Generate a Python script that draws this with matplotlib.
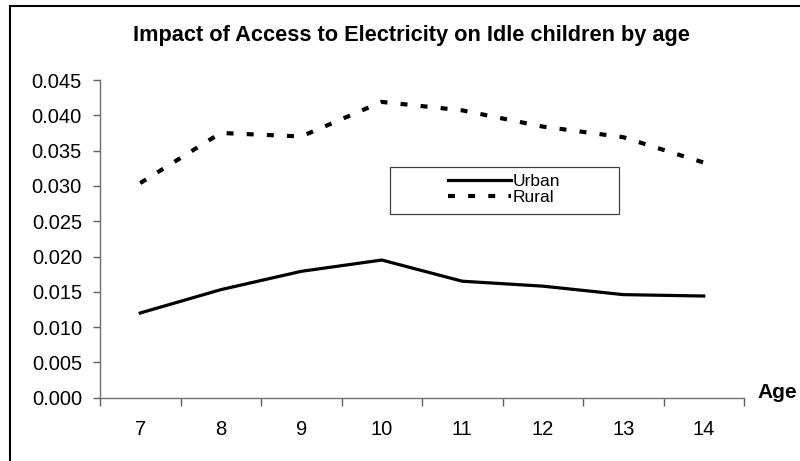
import numpy as np
import matplotlib.pyplot as plt
from matplotlib.patches import Rectangle

plt.rcParams['font.family'] = ['Liberation Sans', 'DejaVu Sans']
plt.rcParams['lines.scale_dashes'] = False

ages = [7, 8, 9, 10, 11, 12, 13, 14]
urban = [0.0120, 0.0153, 0.0179, 0.0195, 0.0165, 0.0158, 0.0146, 0.0144]
rural = [0.0304, 0.0375, 0.0370, 0.0419, 0.0407, 0.0384, 0.0369, 0.0333]
y_ticks = [0.000, 0.005, 0.010, 0.015, 0.020, 0.025, 0.030, 0.035, 0.040, 0.045]

W, H = 800, 461
fig = plt.figure(figsize=(W / 100, H / 100), dpi=100)
ax = fig.add_axes([100 / W, 1 - 397.7 / H, 644 / W, 317.7 / H])

x = np.arange(len(ages))
ax.plot(x, urban, color='black', lw=2.3, label='Urban')
ax.plot(x, rural, color='black', lw=3.0, dashes=(5.0, 9.5), dash_capstyle='butt',
        label='Rural')

ax.set_xlim(-0.5, len(ages) - 0.5)
ax.set_ylim(0, 0.045)

# category axis: ticks sit between categories, labels in the middle
ax.set_xticks(np.arange(len(ages) + 1) - 0.5)
ax.set_xticklabels([])
ax.set_xticks(x, minor=True)
ax.set_xticklabels([str(a) for a in ages], minor=True, fontsize=14.5)
ax.tick_params(axis='x', which='major', length=6, width=1, color='#606060', direction='out')
ax.tick_params(axis='x', which='minor', length=0, pad=16)

ax.set_yticks(y_ticks)
ax.set_yticklabels([f'{v:.3f}' for v in y_ticks], fontsize=14.5)
ax.tick_params(axis='y', length=5, width=1, color='#606060', pad=8)

for side in ['top', 'right']:
    ax.spines[side].set_visible(False)
for side in ['left', 'bottom']:
    ax.spines[side].set_color('#707070')
    ax.spines[side].set_linewidth(1.0)

# legend box drawn separately, entries placed inside it
fig.patches.append(Rectangle((390 / W, 1 - 214 / H), 229 / W, 47 / H, transform=fig.transFigure,
                             fill=False, edgecolor='#404040', linewidth=0.9))
fig.legend(loc='upper left', bbox_to_anchor=(448 / W, 1 - 174 / H), fontsize=12.5,
           frameon=False, handlelength=3.6, handletextpad=0.12, labelspacing=0.05,
           borderpad=0, borderaxespad=0)

fig.text(411 / W, 1 - 36 / H, 'Impact of Access to Electricity on Idle children by age',
         ha='center', va='center', fontsize=15.7, fontweight='bold')
fig.text(757 / W, 1 - 393 / H, 'Age', ha='left', va='center', fontsize=15, fontweight='bold')

# outer chart border
fig.patches.append(Rectangle((10 / W, -0.1), 1.2, 1 - 6 / H + 0.1, transform=fig.transFigure,
                             fill=False, edgecolor='black', linewidth=1.5))

fig.savefig('out.png', dpi=100)
